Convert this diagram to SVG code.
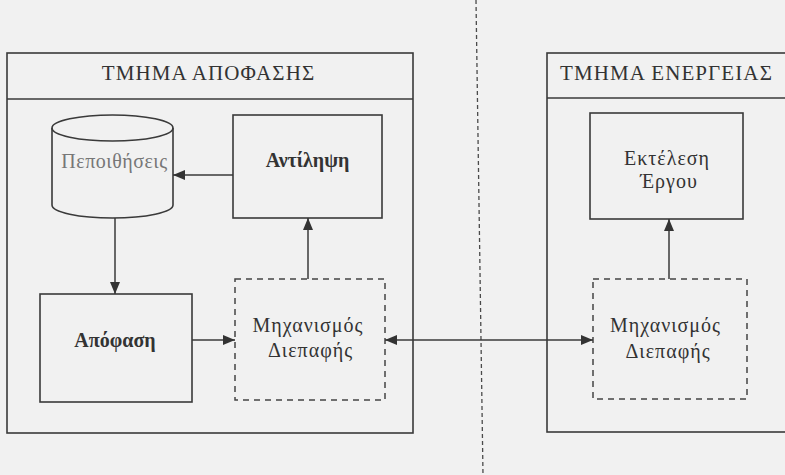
<svg xmlns="http://www.w3.org/2000/svg" width="785" height="475" viewBox="0 0 785 475">
  <defs>
    <marker id="arrow" viewBox="0 0 12 10" refX="12" refY="5" markerWidth="13" markerHeight="10" markerUnits="userSpaceOnUse" orient="auto-start-reverse">
      <path d="M0,0 L12,5 L0,10 Z" fill="#333"/>
    </marker>
  </defs>
  <style>
    .frame { fill: none; stroke: #3a3a3a; stroke-width: 1.6; }
    .box { fill: none; stroke: #3a3a3a; stroke-width: 1.6; }
    .dash { fill: none; stroke: #444; stroke-width: 1.5; stroke-dasharray: 6 5; }
    .conn { fill: none; stroke: #3a3a3a; stroke-width: 1.5; }
    text { fill: #333; text-anchor: middle; }
    .title { font-size: 21px; letter-spacing: 1.1px; }
    .bold { font-size: 20px; font-weight: bold; }
    .reg { font-size: 20px; letter-spacing: 1px; }
    .grey { fill: #777; font-size: 20px; letter-spacing: 0.5px; }
  </style>
  <rect width="785" height="475" fill="#f1f1f1"/>

  <!-- dashed divider between the two parts -->
  <line x1="476" y1="0" x2="483" y2="475" fill="none" stroke="#4a4a4a" stroke-width="1.3" stroke-dasharray="4 3"/>

  <g font-family="'Liberation Serif', 'Times New Roman', 'DejaVu Serif', serif">
    <!-- decision part -->
    <g id="decision-part">
      <rect x="7" y="53" width="406" height="380" class="frame"/>
      <line x1="7" y1="99" x2="413" y2="99" class="frame"/>
      <text x="208.5" y="80" class="title">ΤΜΗΜΑ ΑΠΟΦΑΣΗΣ</text>
    </g>

    <!-- action part -->
    <g id="action-part">
      <rect x="547" y="53" width="250" height="379" class="frame"/>
      <line x1="547" y1="98" x2="785" y2="98" class="frame"/>
      <text x="666.5" y="80" class="title">ΤΜΗΜΑ ΕΝΕΡΓΕΙΑΣ</text>
    </g>

    <g id="beliefs">
      <path d="M52,128 L52,205 A60.5,13 0 0 0 173,205 L173,128" class="box"/>
      <ellipse cx="112.5" cy="128" rx="60.5" ry="13" class="box"/>
      <text x="114.5" y="168" class="grey">Πεποιθήσεις</text>
    </g>

    <g id="perception">
      <rect x="233" y="115" width="149" height="103" class="box"/>
      <text x="307.5" y="167" class="bold">Αντίληψη</text>
    </g>

    <g id="decision">
      <rect x="40" y="294" width="152" height="108" class="box"/>
      <text x="115" y="347" class="bold">Απόφαση</text>
    </g>

    <g id="interface-left">
      <rect x="235" y="279" width="150" height="121" class="dash"/>
      <text x="308" y="332" class="reg">Μηχανισμός</text>
      <text x="310.5" y="357" class="reg">Διεπαφής</text>
    </g>

    <g id="task-execution">
      <rect x="590" y="113" width="153" height="106" class="box"/>
      <text x="667" y="165" class="reg">Εκτέλεση</text>
      <text x="669" y="188" class="reg">Έργου</text>
    </g>

    <g id="interface-right">
      <rect x="593" y="279" width="154" height="120" class="dash"/>
      <text x="665.5" y="332" class="reg">Μηχανισμός</text>
      <text x="668" y="358" class="reg">Διεπαφής</text>
    </g>
  </g>

  <g id="connectors">
    <line x1="233" y1="175" x2="173" y2="175" class="conn" marker-end="url(#arrow)"/>
    <line x1="115" y1="218" x2="115" y2="294" class="conn" marker-end="url(#arrow)"/>
    <line x1="192" y1="340" x2="235" y2="340" class="conn" marker-end="url(#arrow)"/>
    <line x1="308" y1="279" x2="308" y2="218" class="conn" marker-end="url(#arrow)"/>
    <line x1="385" y1="340" x2="593" y2="340" class="conn" marker-start="url(#arrow)" marker-end="url(#arrow)"/>
    <line x1="669" y1="279" x2="669" y2="219" class="conn" marker-end="url(#arrow)"/>
  </g>
</svg>
